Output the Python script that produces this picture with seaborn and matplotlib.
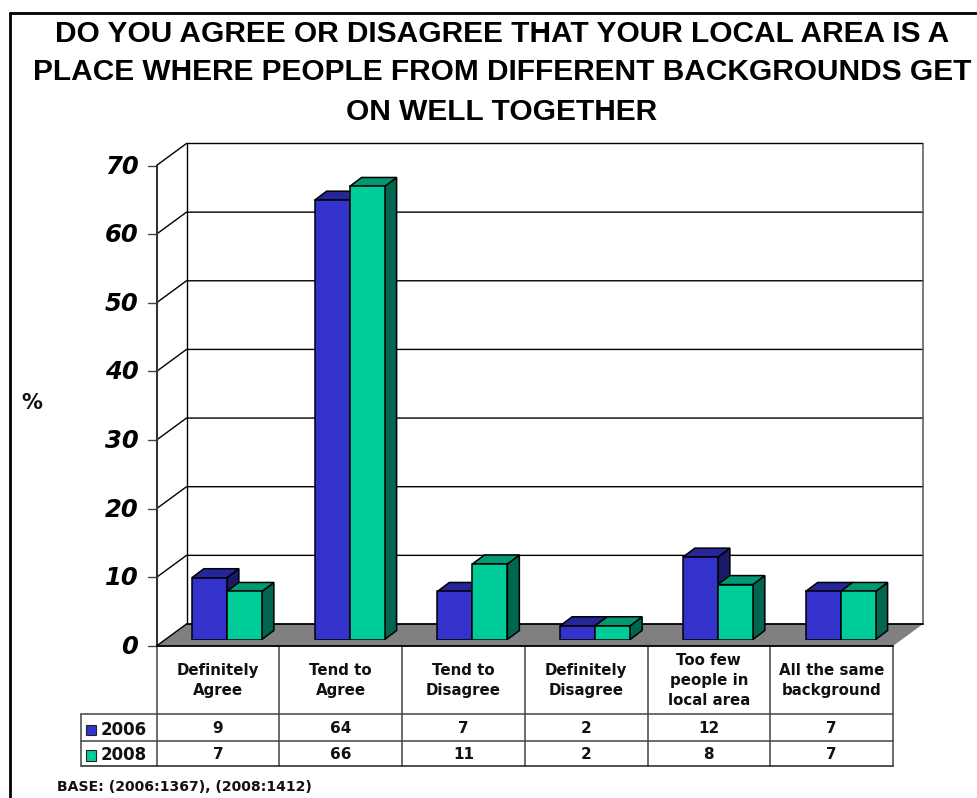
import numpy as np
import pandas as pd
import matplotlib
matplotlib.use("Agg")
import matplotlib.pyplot as plt
from matplotlib.patches import Polygon
from matplotlib.transforms import Affine2D
import seaborn as sns

categories = ["Definitely\nAgree", "Tend to\nAgree", "Tend to\nDisagree",
              "Definitely\nDisagree", "Too few\npeople in\nlocal area", "All the same\nbackground"]
values_2006 = [9, 64, 7, 2, 12, 7]
values_2008 = [7, 66, 11, 2, 8, 7]
years = ["2006", "2008"]
front_colors = ["#3333CC", "#00CC99"]
top_colors = ["#26269A", "#009973"]
side_colors = ["#1A1A66", "#006650"]
y_ticks = [0, 10, 20, 30, 40, 50, 60, 70]
title_lines = ["DO YOU AGREE OR DISAGREE THAT YOUR LOCAL AREA IS A",
               "PLACE WHERE PEOPLE FROM DIFFERENT BACKGROUNDS GET",
               "ON WELL TOGETHER"]
base_note = "BASE: (2006:1367), (2008:1412)"

W, H = 978, 798
sns.set_theme(style="white")
plt.rcParams["font.family"] = ["DejaVu Sans"]
fig = plt.figure(figsize=(W / 100, H / 100), dpi=100)
fig.patch.set_facecolor("white")

# pixel overlay
pg = fig.add_axes([0, 0, 1, 1], zorder=0)
pg.set_xlim(0, W); pg.set_ylim(H, 0); pg.axis("off")

L, R, Y0, Y70 = 156.5, 893.0, 646.0, 165.5
DX, DY = 30.0, 22.0      # wall depth
BX, BY = 9.0, 6.5        # bar plane shift from front
ax = fig.add_axes([(L + BX) / W, (H - Y0 + BY) / H, (R - L) / W, (Y0 - Y70) / H], zorder=2)
ax.patch.set_alpha(0)

df = pd.DataFrame({
    "category": categories * 2,
    "year": [years[0]] * 6 + [years[1]] * 6,
    "value": values_2006 + values_2008,
})
sns.barplot(data=df, x="category", y="value", hue="year", palette=front_colors,
            order=categories, hue_order=years, width=0.57, gap=0, dodge=True,
            edgecolor="black", linewidth=1.1, saturation=1, legend=False, ax=ax, zorder=3)
ax.set_xlim(-0.5, 5.5); ax.set_ylim(0, 70)
ax.axis("off")

# 3D faces of bars, in pixel offsets from the bar plane
bx, by = 12.0, 9.0
containers = ax.containers
for s in [0, 1]:
    for rect in containers[s]:
        x0, w, h = rect.get_x(), rect.get_width(), rect.get_height()
        def pts(a, b):
            return ax.transData.transform([a, b])
        p0, p1, p2 = pts(x0, h), pts(x0 + w, h), pts(x0 + w, 0)
        d = np.array([bx, by])
        top = Polygon([p0, p1, p1 + d, p0 + d], closed=True,
                      fc=top_colors[s], ec="black", lw=1.1, zorder=2)
        side = Polygon([p1, p2, p2 + d, p1 + d], closed=True,
                       fc=side_colors[s], ec="black", lw=1.1, zorder=2)
        ax.add_artist(side); ax.add_artist(top)
        top.set_transform(Affine2D()); side.set_transform(Affine2D())
for c in containers:
    for r_ in c:
        r_.set_zorder(5)

# walls, floor, grid in pixels
def ypx(v):
    return Y0 - (Y0 - Y70) * v / 70.0

pg.add_patch(Polygon([(L, Y0), (R, Y0), (R + DX, Y0 - DY), (L + DX, Y0 - DY)],
                     closed=True, fc="#808080", ec="none", zorder=1))
pg.plot([L, R], [Y0, Y0], color="black", lw=1.3, zorder=2)
pg.plot([L + DX, R + DX], [Y0 - DY, Y0 - DY], color="black", lw=1.3, zorder=2)
pg.plot([L, L + DX], [Y0, Y0 - DY], color="black", lw=1, zorder=2)
for v in y_ticks[1:]:
    y = ypx(v)
    pg.plot([L, L + DX, R + DX], [y, y - DY, y - DY], color="black", lw=1, zorder=1)
    pg.plot([L - 9, L], [y, y], color="#444444", lw=1, zorder=1)
pg.plot([L - 9, L], [Y0, Y0], color="#444444", lw=1, zorder=1)
pg.plot([L, L], [Y70, Y0], color="#333333", lw=1.5, zorder=1)
pg.plot([L + DX, L + DX], [Y70 - DY, Y0 - DY], color="black", lw=1, zorder=1)
pg.plot([R + DX, R + DX], [Y70 - DY, Y0 - DY], color="#555555", lw=1.1, zorder=1)

for v in y_ticks:
    pg.text(L - 18, ypx(v) + 1, str(v), ha="right", va="center", fontsize=17.5,
            fontweight="bold", fontstyle="italic", color="black")
pg.text(32, 403, "%", ha="center", va="center", fontsize=15, fontweight="bold", color="#111111")

# data table
col_w = (R - L) / 6
xs = [L + i * col_w for i in range(7)]
rows = [646.0, 713.5, 740.5, 765.5]
LEG = 81.0
tc = "#444444"
for x in xs:
    pg.plot([x, x], [rows[0], rows[3]], color=tc, lw=1.1, zorder=1)
pg.plot([LEG, R], [rows[1], rows[1]], color=tc, lw=1.1)
pg.plot([LEG, R], [rows[2], rows[2]], color=tc, lw=1.1)
pg.plot([LEG, R], [rows[3], rows[3]], color="#222222", lw=1.1)
pg.plot([LEG, LEG], [rows[1], rows[3]], color=tc, lw=1.1)
for i, cat in enumerate(categories):
    cx = xs[i] + col_w / 2
    pg.text(cx, 680.5, cat, ha="center", va="center", fontsize=10.8, fontweight="bold",
            color="#111111", linespacing=1.38)
    pg.text(cx, 728.5, str(values_2006[i]), ha="center", va="center", fontsize=11, fontweight="bold", color="#111111")
    pg.text(cx, 754.5, str(values_2008[i]), ha="center", va="center", fontsize=11, fontweight="bold", color="#111111")
for r, (yr, col) in enumerate(zip(years, front_colors)):
    yc = [730, 755.5][r]
    pg.add_patch(Polygon([(85.5, yc - 5.5), (95.5, yc - 5.5), (95.5, yc + 5), (85.5, yc + 5)], closed=True,
                         fc=col, ec="#222222", lw=0.8))
    pg.text(101, yc, yr, ha="left", va="center", fontsize=12, fontweight="bold", color="#111111")

pg.text(57, 787, base_note, ha="left", va="center", fontsize=10.1, fontweight="bold", color="#111111")
for line, y in zip(title_lines, [33.5, 72.5, 112.5]):
    pg.text(502, y, line, ha="center", va="center", fontsize=21.5, fontweight="bold",
            color="black", family=["Liberation Sans"])

# outer frame
pg.plot([10, 10], [13, H], color="black", lw=2)
pg.plot([10, W], [13, 13], color="black", lw=2)

fig.savefig("out.png", dpi=100)
